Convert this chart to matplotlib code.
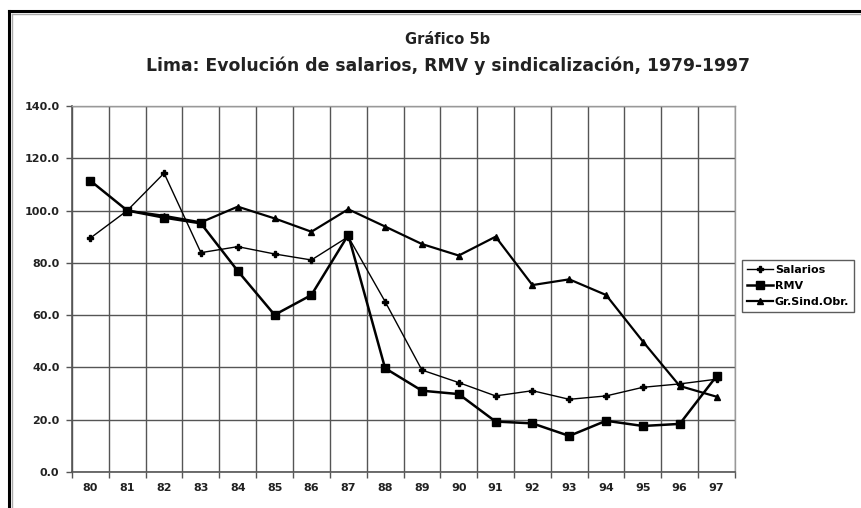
"""Gráfico 5b: Lima, evolución de salarios, RMV y sindicalización (1979-1997)."""
import numpy as np
import matplotlib
matplotlib.use("Agg")
import matplotlib.pyplot as plt
from matplotlib.lines import Line2D

plt.rcParams["font.family"] = ["DejaVu Sans"]

years = ["80", "81", "82", "83", "84", "85", "86", "87", "88",
         "89", "90", "91", "92", "93", "94", "95", "96", "97"]
salarios = [89.5, 100.0, 114.3, 83.9, 86.2, 83.4, 81.1, 90.0, 65.2,
            39.0, 34.2, 29.1, 31.1, 27.8, 29.1, 32.4, 33.7, 35.5]
rmv = [111.4, 100.0, 97.3, 95.1, 76.9, 60.1, 67.7, 90.7, 39.7,
       31.1, 29.8, 19.3, 18.6, 13.8, 19.6, 17.6, 18.4, 36.7]
sindic = [np.nan, 100.0, 98.0, 95.5, 101.5, 97.0, 91.9, 100.5, 93.9,
          87.2, 82.8, 90.0, 71.5, 73.7, 67.7, 49.9, 32.9, 28.8]

W, H = 862, 508
fig = plt.figure(figsize=(W / 100, H / 100), dpi=100)
fig.patch.set_facecolor("white")

# plot area in pixel coords of the reference
left, right, top, bottom = 72, 735, 106, 472
ax = fig.add_axes([left / W, 1 - bottom / H, (right - left) / W, (bottom - top) / H])

x = np.arange(len(years))
ax.plot(x, salarios, color="black", lw=1.0, marker="P", ms=4, label="Salarios", zorder=3)
ax.plot(x, rmv, color="black", lw=1.8, marker="s", ms=5.5, label="RMV", zorder=3)
ax.plot(x, sindic, color="black", lw=1.6, marker="^", ms=5, label="Gr.Sind.Obr.", zorder=3)

ax.set_xlim(-0.5, len(years) - 0.5)
ax.set_ylim(0, 140)
ax.set_yticks(np.arange(0, 141, 20))
ax.set_yticklabels([f"{v:.1f}" for v in range(0, 141, 20)])

# category axis: gridlines/ticks at the boundaries, labels in the middle
ax.set_xticks(np.arange(-0.5, len(years), 1))
ax.set_xticklabels([])
ax.set_xticks(x, minor=True)
ax.set_xticklabels(years, minor=True)
ax.tick_params(axis="x", which="minor", length=0, pad=8)
ax.tick_params(axis="x", which="major", length=4, width=1, color="#555555")
ax.tick_params(axis="y", length=4, width=1, color="#555555", pad=5)
for lab in ax.get_xticklabels(minor=True) + ax.get_yticklabels():
    lab.set_fontsize(8)
    lab.set_fontweight("bold")
    lab.set_color("#222222")

ax.grid(True, which="major", color="#555555", lw=1.0)
ax.set_axisbelow(True)
for side in ("left", "bottom"):
    ax.spines[side].set_color("#555555")
    ax.spines[side].set_linewidth(1.2)
for side in ("top", "right"):
    ax.spines[side].set_color("#999999")
    ax.spines[side].set_linewidth(1.0)

fig.text(448 / W, 1 - 40 / H, "Gráfico 5b", ha="center", va="center",
         fontsize=10.5, fontweight="bold", color="#222222")
fig.text(448 / W, 1 - 66 / H, "Lima: Evolución de salarios, RMV y sindicalización, 1979-1997",
         ha="center", va="center", fontsize=12.4, fontweight="bold", color="#222222")

leg = fig.legend(loc="upper left", bbox_to_anchor=(742 / W, 1 - 260 / H),
                 prop={"size": 8, "weight": "bold"}, frameon=True, fancybox=False,
                 handlelength=2.3, handletextpad=0.2, borderpad=0.45, labelspacing=0.55,
                 borderaxespad=0)
leg.get_frame().set_edgecolor("#333333")
leg.get_frame().set_linewidth(1.0)

# scanned chart frame: thick black border on the left and top
fig.add_artist(Line2D([9.5 / W, 9.5 / W], [0, 1 - 11 / H], color="black", lw=2.2,
                      transform=fig.transFigure))
fig.add_artist(Line2D([9.5 / W, 1], [1 - 11 / H, 1 - 11 / H], color="black", lw=2.2,
                      transform=fig.transFigure))
fig.add_artist(Line2D([12.5 / W, 12.5 / W], [0, 1 - 14 / H], color="#aaaaaa", lw=1.0,
                      transform=fig.transFigure))
fig.add_artist(Line2D([12.5 / W, 1], [1 - 14 / H, 1 - 14 / H], color="#aaaaaa", lw=1.0,
                      transform=fig.transFigure))

fig.savefig("out.png", dpi=100)
